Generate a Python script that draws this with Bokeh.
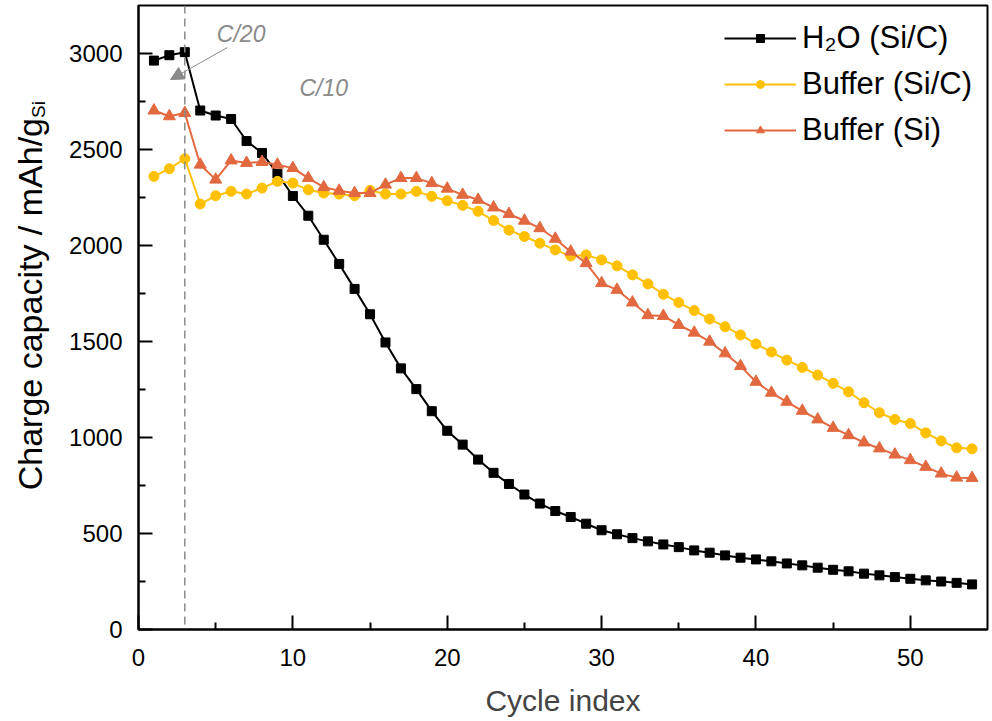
import math
from bokeh.plotting import figure
from bokeh.layouts import row
from bokeh.models import Range1d, Span, Label, Arrow, NormalHead, FixedTicker
from bokeh.embed import file_html
from bokeh.resources import INLINE

cycles = list(range(1, 55))

h2o_sic = [2963, 2991, 3007, 2703, 2677, 2659, 2544, 2482, 2374, 2258,
           2155, 2030, 1904, 1774, 1642, 1495, 1360, 1252, 1137, 1035,
           963, 885, 816, 758, 703, 656, 617, 586, 551, 517,
           496, 476, 459, 443, 429, 412, 400, 386, 374, 365,
           355, 344, 334, 322, 311, 303, 291, 282, 273, 264,
           256, 250, 243, 235]

buffer_sic = [2360, 2400, 2452, 2216, 2259, 2282, 2268, 2299, 2334, 2325,
              2290, 2273, 2268, 2259, 2287, 2268, 2268, 2282, 2256, 2233,
              2209, 2178, 2130, 2080, 2047, 2012, 1977, 1945, 1951, 1925,
              1894, 1847, 1800, 1746, 1703, 1661, 1617, 1577, 1534, 1487,
              1445, 1403, 1365, 1325, 1282, 1238, 1181, 1129, 1094, 1073,
              1024, 982, 946, 941]

buffer_si = [2703, 2673, 2690, 2421, 2343, 2443, 2430, 2435, 2421, 2403,
             2351, 2304, 2285, 2273, 2273, 2317, 2351, 2351, 2325, 2296,
             2264, 2238, 2198, 2164, 2129, 2090, 2035, 1968, 1908, 1804,
             1769, 1703, 1637, 1633, 1586, 1546, 1499, 1438, 1372, 1290,
             1233, 1186, 1139, 1094, 1050, 1012, 974, 943, 911, 882,
             847, 812, 791, 789]

x_ticks = [0, 10, 20, 30, 40, 50]
y_ticks = [0, 500, 1000, 1500, 2000, 2500, 3000]
rate_change_cycle = 3

FONT = "Liberation Sans"
GRAY = "#8a8a8a"

# ---- narrow strip holding the rotated y-axis title (with subscript) ----
TITLE_W, H = 62, 721
ytitle = figure(width=TITLE_W, height=H, output_backend="svg", toolbar_location=None,
                x_range=Range1d(0, TITLE_W), y_range=Range1d(0, H),
                x_axis_type=None, y_axis_type=None,
                min_border=0, min_border_left=0, min_border_right=0,
                min_border_top=0, min_border_bottom=0)
ytitle.outline_line_color = None
ytitle.grid.visible = False
ytitle.background_fill_color = "white"
ytitle.border_fill_color = "white"
ytitle.add_layout(Label(x=29, y=591, angle=math.pi / 2,
                        text="Charge capacity / mAh/g", text_font=FONT, text_font_size="34px",
                        text_align="right", text_baseline="alphabetic", text_color="black"))
ytitle.add_layout(Label(x=38, y=591, angle=math.pi / 2,
                        text="Si", text_font=FONT, text_font_size="19px",
                        text_align="left", text_baseline="alphabetic", text_color="black"))

# ---- main chart ----
p = figure(width=992 - TITLE_W, height=H, output_backend="svg", toolbar_location=None,
           x_range=Range1d(0, 55), y_range=Range1d(0, 3250),
           min_border_left=138 - TITLE_W, min_border_right=5, min_border_top=5,
           min_border_bottom=92)

p.xgrid.visible = False
p.ygrid.visible = False
p.outline_line_color = "black"
p.outline_line_width = 2
p.background_fill_color = "white"
p.border_fill_color = "white"

for ax in (p.xaxis[0], p.yaxis[0]):
    ax.axis_line_width = 2
    ax.major_tick_line_width = 2
    ax.minor_tick_line_width = 2
    ax.major_tick_in = 14
    ax.major_tick_out = 0
    ax.minor_tick_in = 7
    ax.minor_tick_out = 0
    ax.major_label_text_font = FONT
    ax.major_label_text_font_size = "24px"
    ax.major_label_text_color = "black"

p.xaxis.ticker = FixedTicker(ticks=x_ticks, minor_ticks=[5, 15, 25, 35, 45])
p.yaxis.ticker = FixedTicker(ticks=y_ticks, minor_ticks=[250, 750, 1250, 1750, 2250, 2750])
p.xaxis.major_label_standoff = 19
p.yaxis.major_label_standoff = 16
p.xaxis.axis_label = "Cycle index"
p.xaxis.axis_label_text_font = FONT
p.xaxis.axis_label_text_font_size = "30px"
p.xaxis.axis_label_text_font_style = "normal"
p.xaxis.axis_label_standoff = 15
p.yaxis.axis_label = None

# rate change marker
p.add_layout(Span(location=rate_change_cycle, dimension="height", line_color=GRAY,
                  line_dash="8 5", line_width=1.5))

# series
black = "black"
gold = "#FFC000"
orange = "#E2693F"

p.line(cycles, h2o_sic, line_color=black, line_width=2, legend_label="H₂O (Si/C)")
p.scatter(cycles, h2o_sic, marker="square", size=9, fill_color=black, line_color=black,
          legend_label="H₂O (Si/C)")

p.line(cycles, buffer_sic, line_color=gold, line_width=2, legend_label="Buffer (Si/C)")
p.scatter(cycles, buffer_sic, marker="circle", size=10, fill_color=gold, line_color=gold,
          legend_label="Buffer (Si/C)")

p.line(cycles, buffer_si, line_color=orange, line_width=2, legend_label="Buffer (Si)")
p.scatter(cycles, buffer_si, marker="triangle", size=12, fill_color=orange, line_color=orange,
          legend_label="Buffer (Si)")

# annotations
p.add_layout(Label(x=6.65, y=3100, text="C/20", text_font=FONT, text_font_size="23px",
                   text_font_style="italic", text_color=GRAY, text_align="center",
                   text_baseline="alphabetic"))
p.add_layout(Label(x=12.0, y=2819, text="C/10", text_font=FONT, text_font_size="23px",
                   text_font_style="italic", text_color=GRAY, text_align="center",
                   text_baseline="alphabetic"))
p.add_layout(Arrow(x_start=5.75, y_start=3031, x_end=2.07, y_end=2864,
                   line_color=GRAY, line_width=1,
                   end=NormalHead(size=13, fill_color=GRAY, line_color=GRAY)))

leg = p.legend[0]
leg.location = "top_right"
leg.border_line_color = None
leg.background_fill_alpha = 0
leg.margin = 15
leg.padding = 8
leg.spacing = 10
leg.glyph_width = 72
leg.glyph_height = 20
leg.label_height = 36
leg.label_standoff = 6
leg.label_text_font = FONT
leg.label_text_font_size = "31px"
leg.label_text_color = "black"

layout = row(ytitle, p, spacing=0)
open("out.html", "w").write(file_html(layout, INLINE))
